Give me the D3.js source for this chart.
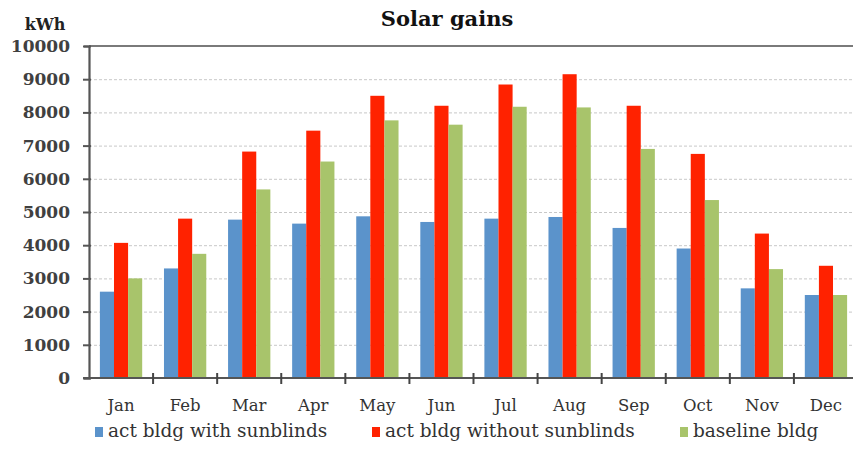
<!DOCTYPE html>
<html><head><meta charset="utf-8">
<script src="https://cdn.jsdelivr.net/npm/d3@7"></script>
<style>body{margin:0;background:#fff}svg{display:block}</style>
</head><body>
<script>
const months = ["Jan","Feb","Mar","Apr","May","Jun","Jul","Aug","Sep","Oct","Nov","Dec"];
const seriesNames = ["act bldg with sunblinds","act bldg without sunblinds","baseline bldg"];
const withBlinds = [2600,3300,4770,4650,4870,4700,4800,4850,4520,3900,2700,2500];
const withoutBlinds = [4070,4800,6820,7450,8500,8200,8840,9150,8200,6750,4350,3380];
const baseline = [3000,3740,5680,6520,7760,7630,8170,8150,6900,5360,3280,2500];
const yTicks = [0,1000,2000,3000,4000,5000,6000,7000,8000,9000,10000];
const colors = ["#5b93cb","#ff2200","#a8c46b"];

(function(){
const W=853,H=452;
const svg=d3.select("body").append("svg").attr("width",W).attr("height",H);
const pl=89, pr=858, pt=46, pb=378;
const x=d3.scaleBand().domain(months).range([pl,pr]).paddingInner(0.34).paddingOuter(0.17);
const xs=d3.scaleBand().domain([0,1,2]).range([0,x.bandwidth()]);
const y=d3.scaleLinear().domain([0,10000]).range([pb,pt]);
const data=[withBlinds,withoutBlinds,baseline];
const serif="'DejaVu Serif', serif";

// grid
svg.append("g").selectAll("line").data(yTicks.filter(d=>d>0&&d<10000)).join("line")
  .attr("x1",pl).attr("x2",W).attr("y1",d=>y(d)+0.5).attr("y2",d=>y(d)+0.5)
  .attr("stroke","#c8c8c8").attr("stroke-width",1).attr("stroke-dasharray","3,2");
svg.append("line").attr("x1",pl).attr("x2",W).attr("y1",y(10000)).attr("y2",y(10000))
  .attr("stroke","#7a7a7a").attr("stroke-width",2.2);

// bars
data.forEach((vals,i)=>{
  svg.append("g").selectAll("rect").data(vals).join("rect")
    .attr("x",(d,j)=>x(months[j])+xs(i)).attr("width",xs.bandwidth())
    .attr("y",d=>y(d)).attr("height",d=>y(0)-y(d)).attr("fill",colors[i]);
});

// y axis
const ya=svg.append("g").attr("transform",`translate(${pl},0)`)
  .call(d3.axisLeft(y).tickValues(yTicks).tickSize(5).tickPadding(14).tickFormat(d3.format("d")));
ya.select(".domain").attr("stroke","#555").attr("stroke-width",2.2);
ya.selectAll(".tick line").attr("stroke","#555").attr("stroke-width",2).attr("x2",-6).attr("x1",2);
ya.selectAll("text").attr("font-family",serif).attr("font-weight","bold").attr("font-size",17).attr("fill","#404040");

// x axis
const bounds=d3.range(13).map(i=>pl+i*x.step());
svg.append("line").attr("x1",pl-6).attr("x2",W).attr("y1",pb).attr("y2",pb).attr("stroke","#555").attr("stroke-width",2.2);
svg.append("g").selectAll("line").data(bounds.slice(1)).join("line")
  .attr("x1",d=>d).attr("x2",d=>d).attr("y1",pb-5).attr("y2",pb+6).attr("stroke","#444").attr("stroke-width",2);
svg.append("g").selectAll("text").data(months).join("text")
  .attr("x",d=>x(d)+x.bandwidth()/2).attr("y",411).attr("text-anchor","middle")
  .attr("font-family",serif).attr("font-size",16.5).attr("fill","#333").text(d=>d);

// title & unit
svg.append("text").attr("x",447).attr("y",26).attr("text-anchor","middle")
  .attr("font-family",serif).attr("font-weight","bold").attr("font-size",21).attr("fill","#111").text("Solar gains");
svg.append("text").attr("x",45).attr("y",30).attr("text-anchor","middle")
  .attr("font-family",serif).attr("font-weight","bold").attr("font-size",16).attr("fill","#222").text("kWh");

// legend
const lx=[95,372,680];
const lg=svg.append("g").selectAll("g").data(seriesNames).join("g")
  .attr("transform",(d,i)=>`translate(${lx[i]},437)`);
lg.append("rect").attr("x",0).attr("y",-10).attr("width",8).attr("height",10).attr("fill",(d,i)=>colors[i]);
lg.append("text").attr("x",13).attr("y",0).attr("font-family",serif).attr("font-size",18.5).attr("fill","#333").text(d=>d);
})();
</script>
</body></html>
